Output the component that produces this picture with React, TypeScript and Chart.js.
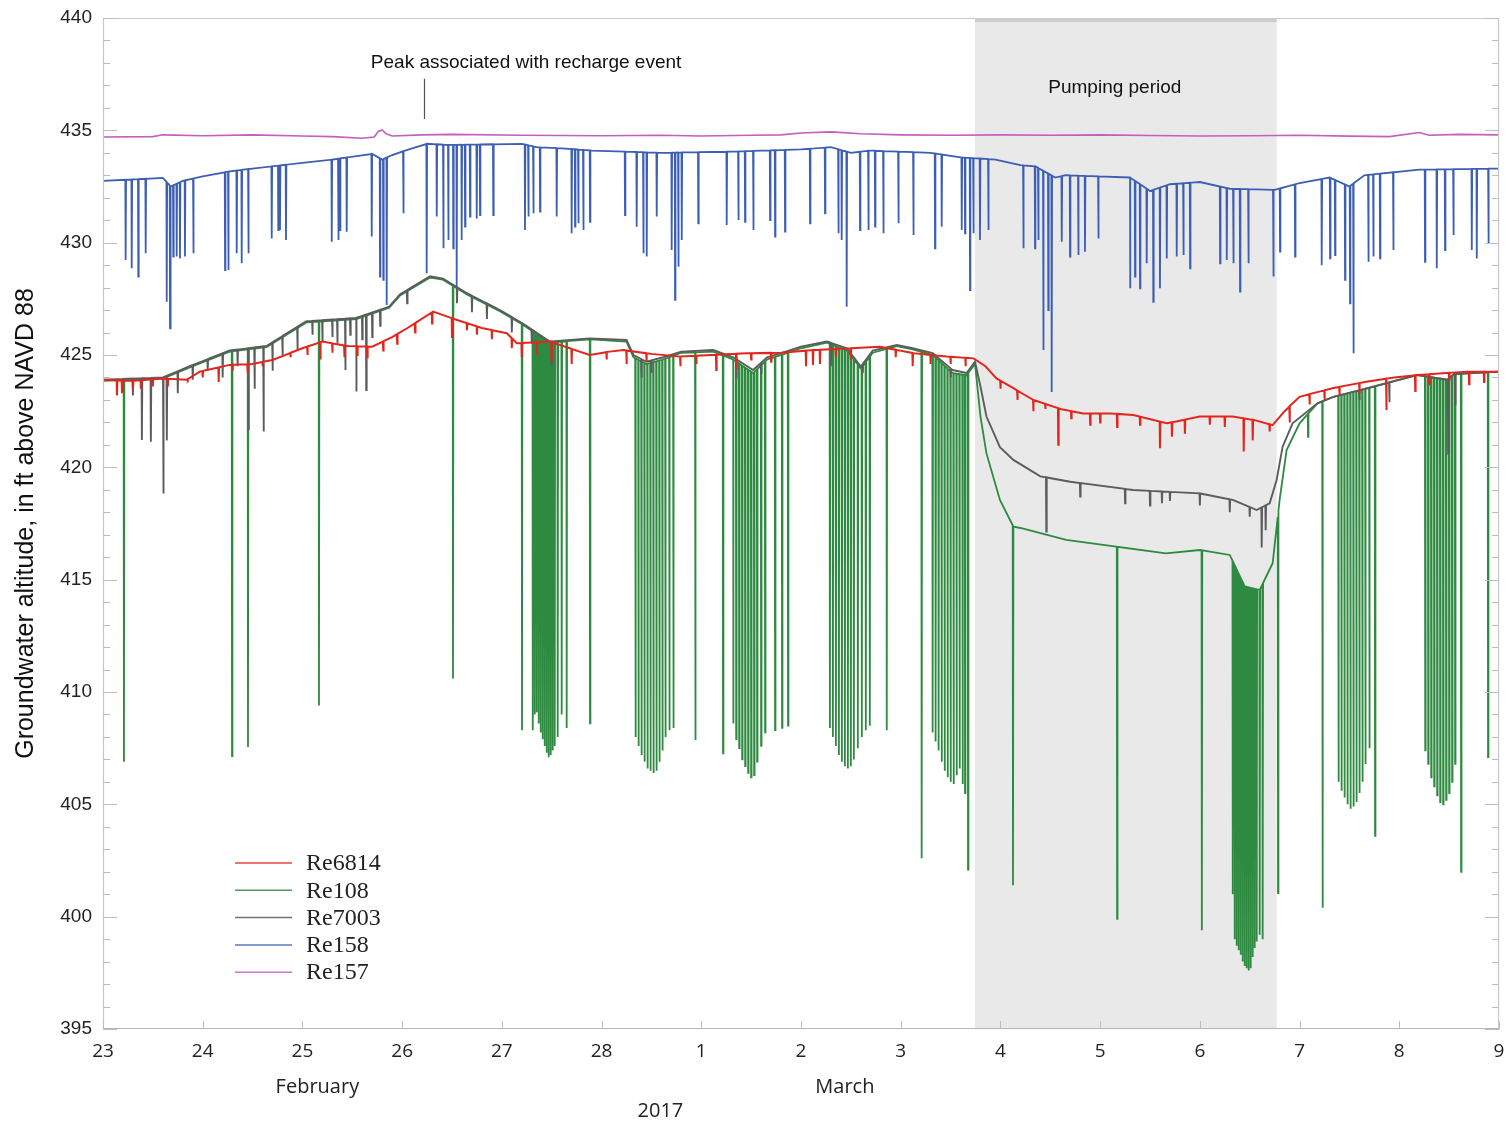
import React, { useEffect, useRef } from "react";
import { Chart, registerables } from "chart.js";

Chart.register(...registerables);

// ---------- axis / labels ----------
const X_TICK_LABELS = ["23", "24", "25", "26", "27", "28", "1", "2", "3", "4", "5", "6", "7", "8", "9"];
const MONTH_NAMES = ["February", "March"];
const MONTH_DAYS = [2.15, 7.44];
const YEAR_TEXT = "2017";
const YEAR_DAY = 5.59;
const Y_TITLE = "Groundwater altitude, in ft above NAVD 88";
const PUMP_START = 8.745;
const PUMP_END = 11.77;
const PUMP_TEXT = "Pumping period";
const PEAK_TEXT = "Peak associated with recharge event";
const PEAK_DAY = 3.22;

const SERIES_NAMES = ["Re6814", "Re108", "Re7003", "Re158", "Re157"];
const SERIES_COLORS = ["#e3261d", "#2e8a40", "#5c5c5c", "#3d5fb3", "#c25fbf"];

// ---------- series (day since Feb 23, ft) ----------
const RE157_BASE = [
  [0, 434.7], [0.5, 434.72], [0.6, 434.8], [1.0, 434.76], [1.5, 434.8], [2.0, 434.75], [2.3, 434.72],
  [2.6, 434.65], [2.72, 434.7], [2.76, 434.95], [2.8, 435.02], [2.84, 434.85], [2.9, 434.75], [3.2, 434.8],
  [3.5, 434.82], [4.2, 434.78], [5.0, 434.76], [5.6, 434.78], [6.0, 434.75], [6.5, 434.78], [6.8, 434.8],
  [7.0, 434.88], [7.3, 434.93], [7.6, 434.85], [8.0, 434.8], [8.5, 434.78], [9.0, 434.8], [9.5, 434.78],
  [10.0, 434.8], [10.5, 434.77], [11.0, 434.75], [11.5, 434.76], [12.0, 434.78], [12.5, 434.74],
  [12.9, 434.72], [13.2, 434.9], [13.3, 434.78], [13.6, 434.82], [14, 434.8],
];

const RE158_BASE = [
  [0, 432.75], [0.6, 432.88], [0.68, 432.5], [0.8, 432.75], [1.0, 432.95], [1.24, 433.15], [1.5, 433.3],
  [2.0, 433.55], [2.3, 433.7], [2.7, 433.95], [2.8, 433.7], [2.9, 433.9], [3.1, 434.2], [3.25, 434.4],
  [3.5, 434.35], [4.2, 434.4], [4.35, 434.25], [4.6, 434.2], [4.9, 434.1], [5.6, 434.0], [6.3, 434.05],
  [7.0, 434.15], [7.3, 434.25], [7.5, 434.0], [7.7, 434.1], [8.3, 434.0], [8.6, 433.8], [8.95, 433.7],
  [9.2, 433.45], [9.35, 433.4], [9.55, 432.9], [9.65, 433.0], [10.3, 432.9], [10.5, 432.3], [10.7, 432.6],
  [11.0, 432.7], [11.3, 432.4], [11.75, 432.35], [12.0, 432.65], [12.3, 432.9], [12.5, 432.5], [12.65, 433.0],
  [13.2, 433.25], [14, 433.3],
];
const RE158_SPIKES = [
  [0.227, 429.23], [0.288, 428.86], [0.354, 428.49], [0.428, 429.53], [0.639, 427.37], [0.672, 426.19],
  [0.705, 429.38], [0.739, 429.38], [0.772, 429.3], [0.822, 429.38], [0.906, 429.53], [1.224, 428.78],
  [1.257, 428.78], [1.341, 429.53], [1.391, 429.08], [1.458, 429.53], [1.692, 430.19], [1.758, 430.56],
  [1.775, 430.56], [1.835, 430.12], [2.294, 430.04], [2.36, 430.12], [2.377, 430.56], [2.444, 430.49],
  [2.695, 430.27], [2.778, 428.49], [2.811, 428.34], [2.845, 427.23], [3.012, 431.31], [3.246, 428.64],
  [3.347, 431.16], [3.413, 429.75], [3.463, 430.12], [3.513, 429.75], [3.547, 428.04], [3.597, 430.12],
  [3.631, 430.71], [3.681, 431.16], [3.748, 431.08], [3.781, 431.23], [3.914, 431.23],
  [4.232, 430.56], [4.266, 431.16], [4.316, 431.31], [4.383, 431.38], [4.55, 431.16], [4.7, 430.42],
  [4.734, 430.71], [4.767, 430.86], [4.817, 430.56], [4.884, 430.93], [5.235, 431.23], [5.352, 430.71],
  [5.419, 429.53], [5.453, 429.38], [5.553, 431.16], [5.703, 429.67], [5.737, 427.45], [5.77, 428.93],
  [5.804, 430.12], [5.97, 430.86], [6.255, 430.79], [6.372, 431.01], [6.439, 430.93], [6.522, 430.56],
  [6.69, 431.01], [6.74, 430.27], [6.84, 430.49], [7.091, 430.86], [7.241, 431.31], [7.375, 430.42],
  [7.408, 430.12], [7.458, 427.15], [7.592, 430.56], [7.676, 430.56], [7.743, 430.71], [7.826, 430.42],
  [7.977, 430.86], [8.127, 430.34], [8.344, 429.75], [8.411, 430.71], [8.612, 430.56], [8.645, 430.42],
  [8.695, 427.89], [8.729, 430.42], [8.795, 430.12], [8.879, 430.56],
  [9.23, 429.75], [9.347, 429.75], [9.38, 430.12], [9.43, 425.22], [9.48, 427.0], [9.514, 423.35],
  [9.615, 430.04], [9.698, 429.38], [9.781, 429.45], [9.848, 429.6], [9.982, 430.19], [10.3, 427.97],
  [10.35, 428.49], [10.4, 427.97], [10.467, 429.08], [10.533, 427.37], [10.6, 427.97], [10.668, 429.3],
  [10.768, 429.38], [10.835, 429.45], [10.902, 428.86], [11.203, 429.08], [11.27, 429.23], [11.336, 429.08],
  [11.403, 427.82], [11.487, 429.08], [11.737, 428.49], [11.804, 429.6], [11.955, 429.38], [12.222, 429.0],
  [12.306, 429.3], [12.356, 429.45], [12.456, 428.34], [12.506, 427.3], [12.54, 425.08], [12.69, 429.15],
  [12.74, 429.38], [12.807, 429.3], [12.94, 429.67], [13.258, 429.15], [13.376, 428.86], [13.459, 429.67],
  [13.543, 430.34], [13.727, 429.67], [13.777, 429.3], [13.894, 429.97],
];

const RE6814_BASE = [
  [0, 423.9], [0.3, 423.85], [0.6, 423.95], [0.84, 423.9], [0.97, 424.26], [1.27, 424.56], [1.5, 424.6],
  [1.7, 424.78], [2.0, 425.3], [2.2, 425.6], [2.45, 425.4], [2.7, 425.37], [2.9, 425.8], [3.05, 426.19],
  [3.31, 426.93], [3.55, 426.56], [3.8, 426.2], [4.05, 425.97], [4.15, 425.52], [4.48, 425.6], [4.88, 425.0],
  [5.08, 425.15], [5.22, 425.22], [5.5, 425.05], [5.79, 424.93], [6.1, 425.0], [6.45, 425.08], [6.8, 425.1],
  [7.12, 425.22], [7.5, 425.3], [7.79, 425.37], [8.13, 425.08], [8.46, 424.93], [8.73, 424.85], [8.85, 424.5],
  [8.96, 423.96], [9.1, 423.6], [9.33, 423.0], [9.6, 422.6], [9.83, 422.4], [10.1, 422.4], [10.33, 422.33],
  [10.67, 421.96], [11.0, 422.26], [11.33, 422.26], [11.55, 422.1], [11.73, 421.88], [11.85, 422.5],
  [12.0, 423.14], [12.33, 423.52], [12.67, 423.81], [12.95, 424.0], [13.18, 424.11], [13.68, 424.26], [14, 424.26],
];
const RE6814_SPIKES = [
  [0.14, 423.2], [0.19, 423.3], [0.3, 423.5], [0.38, 423.5], [0.5, 423.6], [0.65, 423.6], [0.85, 423.9],
  [1.0, 424.0], [1.16, 423.8], [1.3, 424.3], [1.45, 424.2], [1.6, 424.5], [1.88, 424.9], [2.05, 425.0],
  [2.18, 424.8], [2.3, 425.1], [2.42, 424.9], [2.55, 425.0], [2.65, 424.9], [2.81, 425.2], [2.95, 425.5],
  [3.13, 426.0], [3.3, 426.4], [3.5, 425.8], [3.65, 426.1], [3.75, 425.9], [3.9, 425.7], [4.1, 425.3],
  [4.2, 424.9], [4.35, 425.0], [4.5, 424.7], [4.7, 424.6], [5.05, 424.8], [5.25, 424.6], [5.45, 424.7],
  [5.79, 424.5], [5.95, 424.6], [6.15, 424.33], [6.35, 424.4], [6.5, 424.8], [6.7, 424.7], [7.05, 424.5],
  [7.12, 424.56], [7.19, 424.6], [7.35, 424.9], [7.5, 424.8], [7.95, 424.9], [8.12, 424.5], [8.3, 424.6],
  [8.5, 424.6], [8.65, 424.5], [9.0, 423.5], [9.17, 423.0], [9.33, 422.5], [9.45, 422.6], [9.58, 421.0],
  [9.71, 422.18], [9.9, 421.9], [10.0, 422.0], [10.17, 421.8], [10.4, 421.9], [10.6, 420.85], [10.72, 421.36],
  [10.85, 421.5], [11.1, 421.9], [11.25, 421.8], [11.44, 420.7], [11.53, 421.2], [11.7, 421.6], [11.9, 422.0],
  [12.1, 422.8], [12.25, 423.0], [12.4, 423.2], [12.6, 423.3], [12.87, 422.55], [13.16, 423.4], [13.3, 423.7],
  [13.5, 423.9], [13.7, 423.7], [13.85, 423.8],
];

const RE7003_BASE = [
  [0, 423.9], [0.6, 424.0], [0.87, 424.5], [1.27, 425.2], [1.64, 425.4], [2.04, 426.5], [2.54, 426.65],
  [2.87, 427.15], [2.98, 427.7], [3.28, 428.5], [3.41, 428.4], [3.65, 427.75], [3.98, 427.0], [4.21, 426.4],
  [4.48, 425.6], [4.88, 425.74], [5.25, 425.67], [5.32, 425.0], [5.45, 424.7], [5.62, 424.9], [5.8, 425.15],
  [6.12, 425.22], [6.32, 424.9], [6.52, 424.33], [6.66, 424.9], [6.8, 425.08], [7.0, 425.37], [7.26, 425.6],
  [7.46, 425.3], [7.6, 424.48], [7.72, 425.2], [7.96, 425.45], [8.12, 425.3], [8.32, 425.08], [8.52, 424.33],
  [8.66, 424.2], [8.745, 424.7], [8.8, 423.6], [8.86, 422.26], [8.995, 420.9], [9.13, 420.33], [9.4, 419.6],
  [9.7, 419.36], [10.33, 418.99], [11.0, 418.84], [11.33, 418.55], [11.57, 418.1], [11.7, 418.4],
  [11.77, 419.44], [11.83, 420.92], [11.93, 421.96], [12.18, 422.85], [12.34, 423.14], [12.68, 423.52],
  [13.18, 424.11], [13.48, 423.9], [13.55, 424.15], [14, 424.26],
];
const RE7003_SPIKES = [
  [0.2, 423.4], [0.3, 423.2], [0.39, 421.22], [0.48, 421.14], [0.605, 418.84], [0.64, 421.2], [0.75, 423.3],
  [0.9, 423.9], [1.05, 424.3], [1.2, 424.0], [1.35, 424.5], [1.46, 421.66], [1.52, 423.5], [1.61, 421.59],
  [1.7, 424.3], [1.8, 425.0], [1.95, 425.2], [2.1, 425.9], [2.2, 425.6], [2.3, 425.8], [2.35, 425.5],
  [2.43, 424.33], [2.48, 425.9], [2.54, 423.37], [2.6, 425.7], [2.64, 423.44], [2.7, 425.8], [2.78, 426.3],
  [3.05, 427.3], [3.55, 427.3], [3.7, 426.9], [3.85, 426.6], [4.1, 426.0], [4.3, 425.5], [4.5, 424.5],
  [5.4, 424.0], [5.5, 424.2], [6.35, 424.0], [6.6, 424.2], [7.3, 424.5], [7.62, 424.2], [8.5, 424.0],
  [8.65, 424.2], [9.46, 417.14], [9.8, 418.7], [10.25, 418.4], [10.5, 418.3], [10.62, 418.4], [10.7, 418.5],
  [11.0, 418.3], [11.3, 418.0], [11.5, 417.8], [11.62, 416.43], [11.66, 417.2], [12.6, 423.0], [12.9, 422.9],
  [13.49, 420.6], [13.56, 422.8],
];

const RE108_BASE = [
  [0, 423.85], [0.6, 423.95], [0.87, 424.45], [1.27, 425.15], [1.64, 425.35], [2.04, 426.45], [2.54, 426.6],
  [2.87, 427.1], [2.98, 427.65], [3.28, 428.45], [3.41, 428.35], [3.65, 427.7], [3.98, 426.95], [4.21, 426.35],
  [4.48, 425.55], [4.88, 425.7], [5.25, 425.6], [5.32, 424.9], [5.45, 424.6], [5.62, 424.8], [5.8, 425.1],
  [6.12, 425.15], [6.32, 424.8], [6.52, 424.2], [6.66, 424.8], [6.8, 425.0], [7.0, 425.3], [7.26, 425.55],
  [7.46, 425.2], [7.6, 424.4], [7.72, 425.1], [7.96, 425.4], [8.12, 425.25], [8.32, 425.0], [8.52, 424.2],
  [8.66, 424.1], [8.745, 424.6], [8.8, 422.26], [8.86, 420.62], [8.995, 418.55], [9.13, 417.36], [9.2, 417.3],
  [9.66, 416.77], [10.16, 416.47], [10.66, 416.17], [11.0, 416.32], [11.3, 416.1], [11.45, 414.7],
  [11.6, 414.54], [11.73, 415.73], [11.8, 418.55], [11.87, 420.77], [12.0, 421.96], [12.18, 422.85],
  [12.34, 423.14], [12.68, 423.52], [13.18, 424.11], [13.48, 423.9], [13.55, 424.15], [14, 424.26],
];
const RE108_SPIKES = [
  [0.21, 406.9], [1.294, 407.15], [1.454, 407.55], [2.166, 409.4], [3.51, 410.6], [4.202, 408.3],
  [4.31, 408.3], [4.33, 409.0], [4.35, 409.1], [4.37, 408.6], [4.39, 408.2], [4.41, 407.9], [4.43, 407.6],
  [4.45, 407.3], [4.47, 407.1], [4.49, 407.2], [4.51, 407.4], [4.53, 407.6], [4.56, 408.0], [4.6, 409.0],
  [4.65, 408.4], [4.884, 408.6],
  [5.34, 408.0], [5.37, 407.6], [5.4, 407.2], [5.43, 406.9], [5.46, 406.6], [5.49, 406.5], [5.52, 406.4],
  [5.55, 406.5], [5.58, 406.9], [5.61, 407.4], [5.64, 408.0], [5.68, 408.3], [5.72, 408.4],
  [5.94, 407.86], [6.218, 407.27],
  [6.32, 408.6], [6.35, 407.9], [6.38, 407.5], [6.41, 407.0], [6.44, 406.7], [6.47, 406.4], [6.5, 406.2],
  [6.53, 406.3], [6.56, 406.9], [6.6, 407.6], [6.64, 408.2], [6.74, 408.3], [6.81, 408.4], [6.87, 408.5],
  [7.29, 408.4], [7.32, 408.0], [7.35, 407.6], [7.38, 407.2], [7.41, 406.9], [7.44, 406.7], [7.47, 406.6],
  [7.5, 406.7], [7.53, 407.0], [7.57, 407.5], [7.61, 408.0], [7.65, 408.3], [7.69, 408.5], [7.86, 408.3],
  [8.21, 402.6],
  [8.32, 408.2], [8.35, 407.8], [8.38, 407.4], [8.41, 406.9], [8.44, 406.5], [8.47, 406.2], [8.5, 406.0],
  [8.53, 405.9], [8.56, 406.3], [8.59, 406.6], [8.62, 405.9], [8.645, 405.5], [8.675, 402.1],
  [9.126, 401.4], [10.17, 399.9], [11.02, 399.4],
  [11.33, 401.0], [11.35, 399.0], [11.37, 398.7], [11.39, 398.5], [11.41, 398.3], [11.43, 398.0],
  [11.45, 397.8], [11.47, 397.7], [11.49, 397.6], [11.51, 397.7], [11.53, 398.2], [11.55, 398.6],
  [11.57, 398.9], [11.6, 399.2], [11.63, 399.0], [11.784, 401.05],
  [12.085, 421.36], [12.23, 400.4],
  [12.39, 406.0], [12.42, 405.6], [12.45, 405.3], [12.48, 405.0], [12.51, 404.8], [12.54, 404.9],
  [12.57, 405.1], [12.6, 405.5], [12.63, 406.0], [12.66, 406.8], [12.7, 407.5], [12.757, 403.6],
  [13.26, 407.4], [13.29, 406.8], [13.32, 406.2], [13.35, 405.8], [13.38, 405.4], [13.41, 405.1],
  [13.44, 405.0], [13.47, 405.2], [13.5, 405.5], [13.53, 406.0], [13.56, 406.8], [13.62, 402.0],
  [13.89, 407.1],
];

// ---------- helpers ----------
function baseAt(base: number[][], t: number): number {
  if (t <= base[0][0]) return base[0][1];
  for (let i = 1; i < base.length; i++) {
    if (t <= base[i][0]) {
      const [x0, y0] = base[i - 1];
      const [x1, y1] = base[i];
      return y0 + ((y1 - y0) * (t - x0)) / (x1 - x0);
    }
  }
  return base[base.length - 1][1];
}

function buildSeries(base: number[][], spikes: number[][]) {
  const pts: { x: number; y: number }[] = base.map(([x, y]) => ({ x, y }));
  for (const [t, bottom] of spikes) {
    pts.push({ x: t - 0.003, y: baseAt(base, t - 0.003) });
    pts.push({ x: t, y: bottom });
    pts.push({ x: t + 0.004, y: baseAt(base, t + 0.004) });
  }
  pts.sort((a, b) => a.x - b.x);
  return pts;
}

const decorPlugin = {
  id: "decor",
  beforeDatasetsDraw(chart: any) {
    const { ctx, chartArea, scales } = chart;
    const x1 = scales.x.getPixelForValue(PUMP_START);
    const x2 = scales.x.getPixelForValue(PUMP_END);
    ctx.save();
    ctx.fillStyle = "#e9e9e9";
    ctx.fillRect(x1, chartArea.top, x2 - x1, chartArea.bottom - chartArea.top);
    ctx.fillStyle = "#cdcdcd";
    ctx.fillRect(x1, chartArea.top, x2 - x1, 4);
    ctx.restore();
  },
  afterDatasetsDraw(chart: any) {
    const { ctx, chartArea, scales } = chart;
    const { left, right, top, bottom } = chartArea;
    const xs = scales.x;
    const ys = scales.y;
    ctx.save();
    // frame
    ctx.strokeStyle = "#c9c9c9";
    ctx.lineWidth = 1.2;
    ctx.beginPath();
    ctx.moveTo(left + 0.5, bottom);
    ctx.lineTo(left + 0.5, top + 0.5);
    ctx.lineTo(right - 0.5, top + 0.5);
    ctx.lineTo(right - 0.5, bottom);
    ctx.stroke();
    ctx.strokeStyle = "#b5b5b5";
    ctx.beginPath();
    ctx.moveTo(left, bottom - 0.5);
    ctx.lineTo(right, bottom - 0.5);
    ctx.stroke();
    // y ticks inward
    ctx.strokeStyle = "#bdbdbd";
    ctx.lineWidth = 1;
    for (let v = ys.min; v <= ys.max; v += 1) {
      const y = Math.round(ys.getPixelForValue(v)) + 0.5;
      const len = v % 5 === 0 ? 14 : 7;
      ctx.beginPath();
      ctx.moveTo(left, y);
      ctx.lineTo(left + len, y);
      ctx.moveTo(right, y);
      ctx.lineTo(right - len, y);
      ctx.stroke();
    }
    // x ticks inward
    for (let d = xs.min; d <= xs.max; d += 1) {
      const x = Math.round(xs.getPixelForValue(d)) + 0.5;
      ctx.beginPath();
      ctx.moveTo(x, bottom);
      ctx.lineTo(x, bottom - 8);
      ctx.stroke();
    }
    // annotations
    ctx.fillStyle = "#111";
    ctx.textAlign = "center";
    ctx.textBaseline = "middle";
    ctx.font = "19px 'Liberation Sans', Arial, sans-serif";
    ctx.fillText(PUMP_TEXT, (xs.getPixelForValue(PUMP_START) + xs.getPixelForValue(PUMP_END)) / 2 - 11, ys.getPixelForValue(436.9));
    ctx.fillText(PEAK_TEXT, xs.getPixelForValue(PEAK_DAY) + 102, ys.getPixelForValue(438.0));
    ctx.strokeStyle = "#555";
    ctx.lineWidth = 1.2;
    const px = Math.round(xs.getPixelForValue(PEAK_DAY)) + 0.5;
    ctx.beginPath();
    ctx.moveTo(px, ys.getPixelForValue(437.3));
    ctx.lineTo(px, ys.getPixelForValue(435.5));
    ctx.stroke();
    // month / year labels
    ctx.font = "20px 'Open Sans', 'Noto Sans', sans-serif";
    ctx.fillStyle = "#222";
    MONTH_NAMES.forEach((m, i) => {
      ctx.fillText(m, xs.getPixelForValue(MONTH_DAYS[i]), bottom + 58);
    });
    ctx.fillText(YEAR_TEXT, xs.getPixelForValue(YEAR_DAY), bottom + 82);
    // legend
    const lx = left + 132;
    const ly = bottom - 166;
    ctx.textAlign = "left";
    ctx.font = "24px 'Liberation Serif', 'Times New Roman', serif";
    SERIES_NAMES.forEach((name, i) => {
      const y = ly + i * 27.3;
      ctx.strokeStyle = SERIES_COLORS[i];
      ctx.globalAlpha = 0.85;
      ctx.lineWidth = 1.5;
      ctx.beginPath();
      ctx.moveTo(lx, y);
      ctx.lineTo(lx + 57, y);
      ctx.stroke();
      ctx.globalAlpha = 1;
      ctx.fillStyle = "#222";
      ctx.fillText(name, lx + 71, y + 1);
    });
    ctx.restore();
  },
};

export default function App() {
  const ref = useRef<HTMLCanvasElement>(null);
  useEffect(() => {
    if (!ref.current) return;
    const mk = (i: number, data: any, order: number, width: number) => ({
      label: SERIES_NAMES[i],
      data,
      borderColor: SERIES_COLORS[i],
      backgroundColor: SERIES_COLORS[i],
      borderWidth: width,
      pointRadius: 0,
      tension: 0,
      fill: false,
      order,
    });
    const chart = new Chart(ref.current, {
      type: "line",
      data: {
        datasets: [
          mk(0, buildSeries(RE6814_BASE, RE6814_SPIKES), 0, 2.0),
          mk(1, buildSeries(RE108_BASE, RE108_SPIKES), 2, 1.8),
          mk(2, buildSeries(RE7003_BASE, RE7003_SPIKES), 1, 1.9),
          mk(3, buildSeries(RE158_BASE, RE158_SPIKES), 3, 1.8),
          mk(4, buildSeries(RE157_BASE, []), 4, 1.6),
        ],
      },
      options: {
        animation: false,
        responsive: false,
        devicePixelRatio: 1,
        layout: { padding: { left: 0, right: 7, top: 18, bottom: 0 } },
        plugins: { legend: { display: false }, tooltip: { enabled: false } },
        scales: {
          x: {
            type: "linear",
            min: 0,
            max: 14,
            grid: { display: false, drawTicks: false },
            border: { display: false },
            ticks: {
              stepSize: 1,
              autoSkip: false,
              maxRotation: 0,
              padding: 11,
              color: "#222",
              font: { family: "'Open Sans', 'Noto Sans', sans-serif", size: 19 },
              callback: (v: any) => X_TICK_LABELS[Math.round(Number(v))] ?? "",
            },
            afterFit: (s: any) => {
              s.height = 97;
              s.paddingLeft = 0;
              s.paddingRight = 0;
            },
          },
          y: {
            min: 395,
            max: 440,
            grid: { display: false, drawTicks: false },
            border: { display: false },
            ticks: {
              stepSize: 5,
              padding: 11,
              color: "#222",
              font: { family: "'Liberation Sans', Arial, sans-serif", size: 19 },
            },
            title: {
              display: true,
              text: Y_TITLE,
              color: "#111",
              font: { family: "'Liberation Sans', Arial, sans-serif", size: 25 },
              padding: { top: 11, bottom: 0 },
            },
            afterFit: (s: any) => {
              s.width = 103;
              s.paddingTop = 0;
              s.paddingBottom = 0;
            },
          },
        },
      },
      plugins: [decorPlugin],
    } as any);
    return () => chart.destroy();
  }, []);
  return (
    <div style={{ position: "absolute", left: 0, top: 0, width: 1506, height: 1126, background: "#fff" }}>
      <canvas ref={ref} width={1506} height={1126} style={{ display: "block" }} />
    </div>
  );
}
